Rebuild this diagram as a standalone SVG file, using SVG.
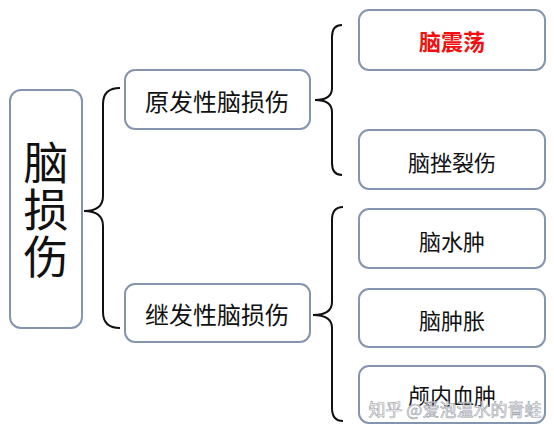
<svg xmlns="http://www.w3.org/2000/svg" width="554" height="431" viewBox="0 0 554 431">
<style>
.box{fill:#ffffff;stroke:#8595b0;stroke-width:2}
.brace{fill:none;stroke:#111;stroke-width:2}
.t{font-family:"Noto Sans CJK SC","Noto Sans",sans-serif;fill:#111;text-anchor:middle;dominant-baseline:central}
.wm{font-family:"Noto Sans CJK SC","Noto Sans",sans-serif;font-size:17px;fill:#ffffff;stroke:#9aa0a8;stroke-width:0.6;fill-opacity:0.8}
</style>
<rect width="554" height="431" fill="#ffffff"/>
<g id="connectors">
<path class="brace" d="M120,88 Q103,88 103,104 L103,196 Q103,211 84,211 Q103,211 103,226 L103,312 Q103,328 120,328"/>
<path class="brace" d="M342,25 Q332,25 332,37 L332,88 Q332,100 315,100 Q332,100 332,112 L332,163 Q332,175 342,175"/>
<path class="brace" d="M343,207 Q332,207 332,220 L332,302 Q332,315 313,315 Q332,315 332,328 L332,408 Q332,421 343,421"/>
</g>
<g id="n-main">
<rect class="box" x="10" y="90" width="72" height="238" rx="11"/>
<text x="46" y="140" font-size="45" letter-spacing="2" style="writing-mode:vertical-rl;font-family:'Noto Sans CJK SC','Noto Sans',sans-serif;fill:#111">脑损伤</text>
</g>
<g id="n-primary">
<rect class="box" x="125" y="70" width="185" height="59" rx="10"/>
<text class="t" x="217" y="100" font-size="24">原发性脑损伤</text>
</g>
<g id="n-secondary">
<rect class="box" x="125" y="284" width="185" height="58" rx="10"/>
<text class="t" x="217" y="313" font-size="24">继发性脑损伤</text>
</g>
<g id="n-concussion">
<rect class="box" x="359" y="10" width="186" height="60" rx="10"/>
<text class="t" x="452" y="40" font-size="22" font-weight="bold" style="fill:#f01010">脑震荡</text>
</g>
<g id="n-contusion">
<rect class="box" x="359" y="130" width="186" height="59" rx="10"/>
<text class="t" x="452" y="161" font-size="22">脑挫裂伤</text>
</g>
<g id="n-edema">
<rect class="box" x="359" y="209" width="186" height="59" rx="10"/>
<text class="t" x="452" y="240" font-size="22">脑水肿</text>
</g>
<g id="n-swelling">
<rect class="box" x="359" y="289" width="186" height="58" rx="10"/>
<text class="t" x="452" y="319" font-size="22">脑肿胀</text>
</g>
<g id="n-hematoma">
<rect class="box" x="359" y="366" width="186" height="57" rx="10"/>
<text class="t" x="452" y="394" font-size="22">颅内血肿</text>
</g>
<text class="wm" x="455" y="408" text-anchor="middle" dominant-baseline="central">知乎 @爱泡温水的青蛙</text>
</svg>
